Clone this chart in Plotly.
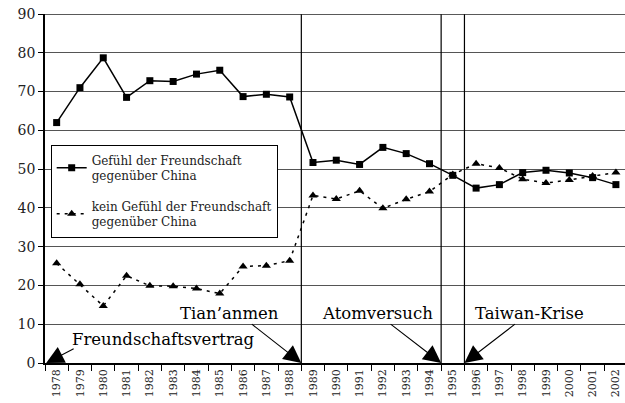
import plotly.graph_objects as go

years = [str(y) for y in range(1978, 2003)]
freundschaft = [62, 71, 78.7, 68.5, 72.8, 72.6, 74.5, 75.5, 68.7, 69.3, 68.6,
                51.7, 52.3, 51.2, 55.6, 54, 51.4, 48.4, 45.1, 46, 49.1, 49.7, 49, 47.8, 46]
kein = [25.7, 20.3, 14.7, 22.5, 19.9, 19.8, 19.2, 17.9, 24.9, 25.1, 26.4,
        43.2, 42.3, 44.4, 39.9, 42.2, 44.2, 48.6, 51.4, 50.3, 47.4, 46.4, 47.2, 48.2, 49.1]
y_ticks = [0, 10, 20, 30, 40, 50, 60, 70, 80, 90]
event_labels = ["Freundschaftsvertrag", "Tian’anmen", "Atomversuch", "Taiwan-Krise"]
event_positions = [-0.45, 10.5, 16.5, 17.5]
event_lines = [10.5, 16.5, 17.5]

FONT = "DejaVu Serif"

fig = go.Figure()
fig.add_trace(go.Scatter(
    x=years, y=freundschaft, mode="lines+markers",
    name="Gefühl der Freundschaft<br>gegenüber China",
    line=dict(color="black", width=1.5),
    marker=dict(symbol="square", size=7, color="black"),
    legendgroup="a",
))
fig.add_trace(go.Scatter(
    x=years, y=kein, mode="lines+markers",
    name="kein Gefühl der Freundschaft<br>gegenüber China",
    line=dict(color="black", width=1.5, dash="3px,5px"),
    marker=dict(symbol="triangle-up", size=8, color="black"),
    legendgroup="b",
))

shapes = []
for xv in event_lines:
    shapes.append(dict(type="line", xref="x", yref="paper", x0=xv, x1=xv, y0=0, y1=1,
                       line=dict(color="black", width=1.2)))
shapes.append(dict(type="line", xref="paper", yref="y", x0=0, x1=1, y0=90, y1=90,
                   line=dict(color="#222", width=1.5)))

annotations = []
arrow_offsets = [(29, -15), (-51, -40), (-52, -40), (52, -40)]
text_pos = [(4.59, 6.1), (7.4, 12.8), (13.77, 12.8), (20.29, 12.8)]
for lab, xp, (ax, ay), (tx, ty) in zip(event_labels, event_positions, arrow_offsets, text_pos):
    annotations.append(dict(x=xp, y=0, xref="x", yref="y", text="", showarrow=True,
                            ax=ax, ay=ay, axref="pixel", ayref="pixel",
                            arrowhead=2, arrowsize=3.2, arrowwidth=1.1, arrowcolor="black"))
    annotations.append(dict(x=tx, y=ty, xref="x", yref="y", text=lab, showarrow=False,
                            font=dict(family=FONT, size=16.5, color="black"),
                            bgcolor="rgba(0,0,0,0)"))

fig.update_layout(
    width=625, height=403,
    margin=dict(l=45, r=0, t=14, b=40),
    paper_bgcolor="white", plot_bgcolor="white",
    font=dict(family=FONT, color="black"),
    showlegend=True,
    legend=dict(x=0.0098, y=0.626, xanchor="left", yanchor="top",
                bgcolor="white", bordercolor="black", borderwidth=1,
                font=dict(family=FONT, size=12, color="#222"),
                traceorder="grouped", tracegroupgap=12),
    shapes=shapes,
    annotations=annotations,
    xaxis=dict(type="category", range=[-0.5, 24.39], tickson="boundaries",
               showgrid=False, ticks="outside", ticklen=6, tickcolor="black",
               showline=True, linecolor="black", linewidth=1.5,
               tickangle=-90, tickfont=dict(family=FONT, size=11, color="#222")),
    yaxis=dict(range=[0, 90], tickvals=y_ticks, showgrid=True, gridcolor="#555", gridwidth=1,
               ticks="outside", ticklen=5, tickcolor="black",
               showline=True, linecolor="black", linewidth=1.5, zeroline=False,
               tickfont=dict(family=FONT, size=14, color="#222")),
)

fig.write_html("out.html", config={"displayModeBar": False},
               post_script="document.body.style.margin='0';document.body.style.padding='0';")
